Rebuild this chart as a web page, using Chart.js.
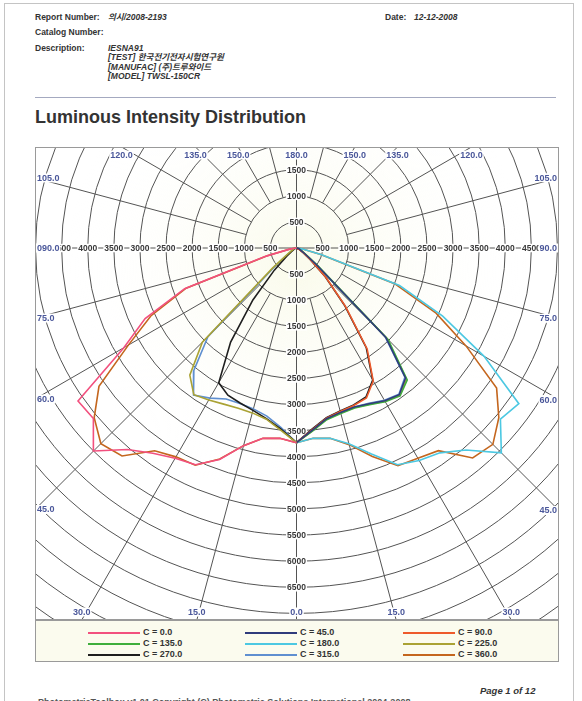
<!DOCTYPE html>
<html>
<head>
<meta charset="utf-8">
<script src="https://cdn.jsdelivr.net/npm/chart.js@4.4.1/dist/chart.umd.min.js"></script>
<style>
  body { margin: 0; width: 582px; height: 701px; overflow: hidden; background: #fff; position: relative;
         font-family: "Liberation Sans", Arial, "Noto Sans CJK KR", sans-serif; color: #333; }
  .t { position: absolute; font-size: 8.5px; font-weight: bold; line-height: 1; white-space: nowrap; }
  .i { font-style: italic; }
  #frame { position: absolute; left: 4px; top: 3px; width: 568px; height: 720px; border: 1px solid #c4c4c4; border-bottom: none; }
  #rule { position: absolute; left: 35px; top: 97px; width: 521px; height: 1px; background: #a4a9c0; }
  #title { position: absolute; left: 35px; top: 108px; font-size: 18px; font-weight: bold; line-height: 1; color: #333; white-space: nowrap; }
  #chart { position: absolute; left: 35px; top: 147px; }
  #legend { position: absolute; left: 35px; top: 620px; width: 524px; height: 42px; box-sizing: border-box;
            border: 1px solid #9a9a9a; background: #fbfbee; }
  .lg-line { position: absolute; height: 2px; width: 52px; }
  .lg-text { position: absolute; font-size: 9px; font-weight: bold; line-height: 1; color: #333; white-space: nowrap; }
</style>
</head>
<body>
<div id="frame"></div>

<div class="t" style="left:35px;top:13px">Report Number:</div>
<div class="t i" style="left:108px;top:13px">의시/2008-2193</div>
<div class="t" style="left:385px;top:13px">Date:</div>
<div class="t i" style="left:414px;top:13px">12-12-2008</div>
<div class="t" style="left:35px;top:28px">Catalog Number:</div>
<div class="t" style="left:35px;top:44px">Description:</div>
<div class="t i" style="left:108px;top:44px">IESNA91</div>
<div class="t i" style="left:108px;top:53px">[TEST] 한국전기전자시험연구원</div>
<div class="t i" style="left:108px;top:63px">[MANUFAC] (주)트루와이드</div>
<div class="t i" style="left:108px;top:72px">[MODEL] TWSL-150CR</div>
<div id="rule"></div>
<div id="title">Luminous Intensity Distribution</div>

<canvas id="chart" width="524" height="473"></canvas>
<div id="legend"></div>

<div class="t i" style="left:480px;top:686px;font-size:9.5px">Page 1 of 12</div>
<div class="t" style="left:38px;top:698px;font-size:9px;color:#555">PhotometricToolbox v1.01 Copyright (C) Photometric Solutions International 2004-2008</div>

<script>
// vertical angles (gamma) of the readings, degrees from nadir
const gammaAngles = [0, 5, 10, 15, 20, 25, 30, 35, 40, 45, 50, 55, 60, 65, 70, 75, 80, 85, 90];

const planeLabels = ['C = 0.0', 'C = 45.0', 'C = 90.0', 'C = 135.0', 'C = 180.0', 'C = 225.0', 'C = 270.0', 'C = 315.0', 'C = 360.0'];
const planeColors = ['#f2507e', '#2f3b7c', '#ee5a2c', '#3fae3c', '#4cc8e2', '#aaa234', '#1e1e1e', '#5f8fd0', '#c4661e'];

// candela values per plane; "Left" half is drawn left of nadir, "Right" half to the right
const c0Left    = [3730, 3660, 3700, 3920, 4310, 4580, 4650, 4800, 5040, 5500, 5080, 5110, 3820, 3200, 2280, 600, 150, 40, 0];
const c45Right  = [3730, 3500, 3320, 3260, 3240, 3290, 3380, 3430, 3250, 2420, 500, 200, 110, 75, 55, 40, 25, 10, 0];
const c90Right  = [3730, 3490, 3310, 3240, 3210, 3170, 2940, 2360, 1460, 800, 350, 150, 80, 50, 35, 25, 15, 5, 0];
const c135Right = [3730, 3520, 3340, 3280, 3260, 3310, 3400, 3460, 3300, 2480, 540, 220, 120, 80, 60, 40, 25, 10, 0];
const c180Right = [3730, 3660, 3700, 3880, 4200, 4580, 4700, 4790, 5050, 5550, 5100, 5200, 4150, 3090, 2100, 500, 120, 30, 0];
const c225Left  = [3730, 3500, 3330, 3270, 3265, 3300, 3360, 3430, 3180, 2550, 600, 220, 120, 80, 60, 40, 25, 10, 0];
const c225Right = [3730, 3510, 3330, 3270, 3250, 3300, 3390, 3440, 3280, 2450, 520, 210, 120, 80, 60, 40, 25, 10, 0];
const c270Left  = [3730, 3480, 3320, 3220, 3160, 3110, 2980, 2200, 1300, 600, 250, 120, 70, 50, 35, 25, 15, 5, 0];
const c270Right = [3730, 3480, 3300, 3230, 3200, 3150, 2920, 2330, 1430, 780, 340, 150, 80, 50, 35, 25, 15, 5, 0];
const c315Left  = [3730, 3450, 3270, 3190, 3170, 3190, 3320, 3440, 3060, 2400, 500, 200, 110, 75, 55, 40, 25, 10, 0];
const c315Right = [3730, 3500, 3310, 3250, 3240, 3280, 3370, 3420, 3230, 2400, 480, 200, 110, 75, 55, 40, 25, 10, 0];
const c360Left  = [3730, 3660, 3700, 3920, 4300, 4590, 4620, 4740, 5200, 5300, 5060, 4620, 3720, 3080, 2250, 580, 140, 40, 0];
const c360Right = [3730, 3660, 3700, 3900, 4250, 4600, 4650, 4740, 5250, 5320, 5060, 4680, 3750, 2950, 2000, 480, 120, 30, 0];

// grid and tick labels
const gridRadii = [500, 1000, 1500, 2000, 2500, 3000, 3500, 4000, 4500, 5000, 5500, 6000, 6500, 7000, 7500, 8000, 8500, 9000];
const sideTicks = [500, 1000, 1500, 2000, 2500, 3000, 3500, 4000, 4500];
const upTicks = [500, 1000, 1500];
const downTicks = [500, 1000, 1500, 2000, 2500, 3000, 3500, 4000, 4500, 5000, 5500, 6000, 6500];
const spokeAngles = [15, 30, 45, 60, 75, 105, 120, 135, 150, 165];
const angleTicks = [0, 15, 30, 45, 60, 75, 90, 105, 120, 135, 150, 180];

function half(vals, side) {
  return vals.map((v, i) => {
    const g = gammaAngles[i] * Math.PI / 180;
    return { x: side * v * Math.sin(g), y: -v * Math.cos(g) };
  });
}
function full(left, right) {
  return half(left, -1).reverse().concat(half(right, 1).slice(1));
}

const planeData = [
  half(c0Left, -1),
  half(c45Right, 1),
  half(c90Right, 1),
  half(c135Right, 1),
  half(c180Right, 1),
  full(c225Left, c225Right),
  full(c270Left, c270Right),
  full(c315Left, c315Right),
  full(c360Left, c360Right)
];

const FONT = '"Liberation Sans", Arial, sans-serif';

function boxText(ctx, text, x, y, align, color, size) {
  ctx.font = 'bold ' + size + 'px ' + FONT;
  const w = ctx.measureText(text).width;
  let left = x;
  if (align === 'center') left = x - w / 2;
  if (align === 'right') left = x - w;
  ctx.fillStyle = '#fff';
  ctx.fillRect(left - 1, y - size / 2, w + 2, size);
  ctx.fillStyle = color;
  ctx.textAlign = 'left';
  ctx.textBaseline = 'middle';
  ctx.fillText(text, left, y + 0.5);
}

const polarGrid = {
  id: 'polarGrid',
  beforeDatasetsDraw(chart) {
    const { ctx, chartArea: a, scales: { x, y } } = chart;
    const cx = x.getPixelForValue(0), cy = y.getPixelForValue(0);
    const k = (x.getPixelForValue(1000) - cx) / 1000;
    ctx.save();
    ctx.beginPath();
    ctx.rect(a.left, a.top, a.right - a.left, a.bottom - a.top);
    ctx.clip();

    // faint yellow tint of the scan around the middle
    const haze = ctx.createRadialGradient(cx, cy + 20, 10, cx, cy + 20, 230);
    haze.addColorStop(0, 'rgba(247,248,222,0.55)');
    haze.addColorStop(1, 'rgba(255,255,255,0)');
    ctx.fillStyle = haze;
    ctx.fillRect(a.left, a.top, a.right - a.left, a.bottom - a.top);

    ctx.strokeStyle = '#545454';
    ctx.lineWidth = 1;
    gridRadii.forEach(r => {
      ctx.beginPath();
      ctx.arc(cx, cy, r * k, 0, Math.PI * 2);
      ctx.stroke();
    });
    spokeAngles.forEach(ang => {
      [-1, 1].forEach(side => {
        const t = ang * Math.PI / 180;
        const dx = side * Math.sin(t), dy = Math.cos(t);
        ctx.beginPath();
        ctx.moveTo(cx + dx * 1000 * k, cy + dy * 1000 * k);
        ctx.lineTo(cx + dx * 12000 * k, cy + dy * 12000 * k);
        ctx.stroke();
      });
    });
    ctx.beginPath();
    ctx.moveTo(a.left, cy); ctx.lineTo(a.right, cy);
    ctx.moveTo(cx, a.top); ctx.lineTo(cx, a.bottom);
    ctx.stroke();

    const tickColor = '#383838';
    sideTicks.forEach(v => {
      boxText(ctx, String(v), cx - v * k, cy, 'center', tickColor, 8.5);
      boxText(ctx, String(v), cx + v * k, cy, 'center', tickColor, 8.5);
    });
    upTicks.forEach(v => boxText(ctx, String(v), cx, cy - v * k, 'center', tickColor, 8.5));
    downTicks.forEach(v => boxText(ctx, String(v), cx, cy + v * k, 'center', tickColor, 8.5));

    const angColor = '#4a579a';
    angleTicks.forEach(ang => {
      [-1, 1].forEach(side => {
        if ((ang === 0 || ang === 180) && side < 0) return;
        const t = ang * Math.PI / 180;
        const dx = side * Math.sin(t), dy = Math.cos(t);
        let txt = ang.toFixed(1);
        if (ang === 90 && side < 0) txt = '090.0';
        const tx = dx > 1e-9 ? (a.right - cx) / dx : dx < -1e-9 ? (a.left - cx) / dx : Infinity;
        const ty = dy > 1e-9 ? (a.bottom - cy) / dy : dy < -1e-9 ? (a.top - cy) / dy : Infinity;
        if (ty <= tx) {
          const ix = cx + dx * ty;
          const ly = dy > 0 ? a.bottom - 8 : a.top + 8;
          boxText(ctx, txt, ix, ly, 'center', angColor, 9);
        } else {
          const iy = cy + dy * tx;
          if (side < 0) boxText(ctx, txt, a.left + 2, iy, 'left', angColor, 9);
          else boxText(ctx, txt, a.right - 2, iy, 'right', angColor, 9);
        }
      });
    });
    ctx.restore();
  },
  afterDraw(chart) {
    const { ctx, chartArea: a } = chart;
    ctx.save();
    ctx.strokeStyle = '#9a9a9a';
    ctx.lineWidth = 1;
    ctx.strokeRect(a.left + 0.5, a.top + 0.5, a.right - a.left - 1, a.bottom - a.top - 1);
    ctx.restore();
  }
};

new Chart(document.getElementById('chart'), {
  type: 'scatter',
  data: {
    datasets: planeData.map((pts, i) => ({
      label: planeLabels[i],
      data: pts,
      showLine: true,
      borderColor: planeColors[i],
      backgroundColor: planeColors[i],
      borderWidth: 1.6,
      pointRadius: 0,
      tension: 0
    }))
  },
  options: {
    responsive: false,
    animation: false,
    layout: { padding: 0 },
    plugins: { legend: { display: false }, tooltip: { enabled: false } },
    scales: {
      x: { type: 'linear', min: -5010, max: 5029, display: false },
      y: { type: 'linear', min: -7126, max: 1935, display: false }
    }
  },
  plugins: [polarGrid]
});

// legend, three columns, row by row
const legend = document.getElementById('legend');
const colX = [52, 209, 367];
const rowY = [12, 23, 33.5];
planeLabels.forEach((lab, i) => {
  const c = i % 3, r = Math.floor(i / 3);
  const line = document.createElement('div');
  line.className = 'lg-line';
  line.style.left = colX[c] + 'px';
  line.style.top = (rowY[r] - 1) + 'px';
  line.style.background = planeColors[i];
  legend.appendChild(line);
  const txt = document.createElement('div');
  txt.className = 'lg-text';
  txt.style.left = (colX[c] + 55) + 'px';
  txt.style.top = (rowY[r] - 5) + 'px';
  txt.textContent = lab;
  legend.appendChild(txt);
});
</script>
</body>
</html>
